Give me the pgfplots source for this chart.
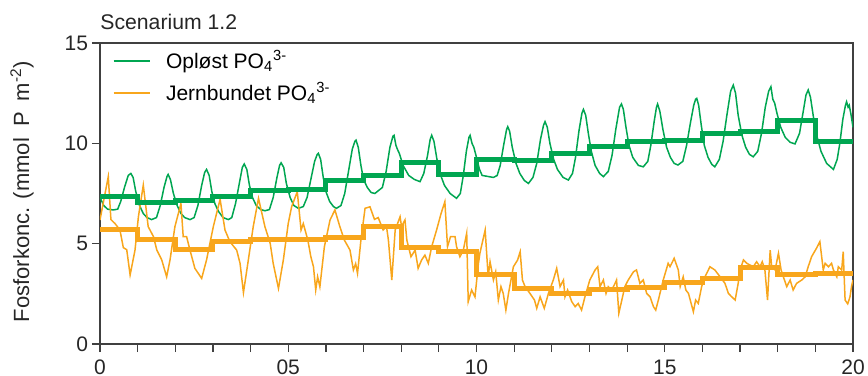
\documentclass[border=0pt]{standalone}
\usepackage{fontspec}
\setmainfont{Liberation Sans}
\usepackage{pgfplots}
\pgfplotsset{compat=1.18}
\definecolor{pgreen}{RGB}{0,166,81}
\definecolor{porange}{RGB}{248,166,28}
\definecolor{frame}{RGB}{64,64,64}
\begin{document}
\begin{tikzpicture}
\begin{axis}[name=ax,
  scale only axis, width=376.5bp, height=150.5bp,
  xmin=0, xmax=20, ymin=0, ymax=15,
  axis line style={frame, line width=0.6bp},
  tick style={frame, line width=0.6bp},
  tick align=outside, xtick pos=bottom, ytick pos=left,
  major tick length=4bp, minor tick length=4bp,
  xtick={0,5,10,15,20}, xticklabels={0,05,10,15,20},
  minor xtick={1,2,3,4,6,7,8,9,11,12,13,14,16,17,18,19},
  ytick={0,5,10,15},
  /pgf/number format/assume math mode=true,
  ticklabel style={font=\fontsize{10.5bp}{12bp}\selectfont, text=black!85},
  xticklabel style={yshift=-0.3bp},
  yticklabel style={xshift=1.5bp},
  legend style={draw=none, fill=none, at={(0,1)}, anchor=north west,
    xshift=3.3bp, yshift=0.5bp, font=\fontsize{10.5bp}{12bp}\selectfont,
    column sep=5.5bp, row sep=1.5bp},
  legend cell align=left,
  legend image code/.code={\draw[#1, line width=0.75bp] (0bp,0bp) -- (18.3bp,0bp);},
]
% thin green: dissolved PO4
\addplot[pgreen, line width=0.75bp] coordinates {
(0,7.3)(0.1,6.9)(0.2,6.72)(0.35,6.68)(0.47,6.72)(0.55,7.1)(0.65,7.8)(0.75,8.4)(0.82,8.5)(0.88,8.3)(0.95,7.6)(1.05,6.9)(1.15,6.5)(1.25,6.3)(1.37,6.2)
(1.5,6.3)(1.6,6.9)(1.7,7.8)(1.78,8.35)(1.81,8.45)(1.87,8.2)(1.95,7.5)(2.05,6.9)(2.15,6.5)(2.25,6.3)(2.39,6.2)
(2.5,6.3)(2.6,6.9)(2.7,7.9)(2.78,8.55)(2.83,8.7)(2.9,8.4)(2.97,7.6)(3.05,7.0)(3.15,6.6)(3.27,6.3)(3.41,6.2)
(3.5,6.3)(3.6,7.0)(3.7,8.0)(3.78,8.8)(3.83,8.97)(3.9,8.7)(3.97,7.9)(4.05,7.3)(4.15,6.9)(4.27,6.7)(4.38,6.64)
(4.5,6.7)(4.6,7.3)(4.7,8.3)(4.77,8.9)(4.81,9.03)(4.88,8.8)(4.95,8.0)(5.05,7.3)(5.15,6.9)(5.27,6.76)
(5.4,6.85)(5.5,7.3)(5.6,8.2)(5.7,9.1)(5.77,9.45)(5.8,9.5)(5.86,9.2)(5.93,8.3)(6.0,7.6)(6.1,7.1)(6.2,6.85)(6.28,6.76)
(6.4,6.9)(6.5,7.5)(6.6,8.6)(6.7,9.7)(6.77,10.1)(6.8,10.16)(6.86,9.8)(6.93,8.9)(7.0,8.2)(7.1,7.8)(7.2,7.55)(7.3,7.5)(7.4,7.65)
(7.5,7.8)(7.6,8.6)(7.7,9.8)(7.78,10.35)(7.81,10.4)(7.86,9.9)(7.9,9.7)(7.95,9.5)(8.05,8.9)(8.2,8.4)(8.35,8.2)(8.5,8.09)
(8.6,8.5)(8.7,9.4)(8.77,10.2)(8.81,10.4)(8.87,10.1)(8.95,9.2)(9.05,8.4)(9.15,7.9)(9.3,7.5)(9.47,7.26)
(9.57,7.5)(9.65,8.4)(9.73,9.6)(9.8,10.3)(9.83,10.4)(9.88,10.0)(9.93,9.8)(10.0,9.3)(10.08,8.7)(10.15,8.4)(10.3,8.35)(10.45,8.3)(10.55,8.4)
(10.63,8.9)(10.72,9.9)(10.8,10.7)(10.83,10.83)(10.88,10.6)(10.95,9.8)(11.05,9.0)(11.15,8.5)(11.27,8.15)(11.38,8.0)
(11.5,8.3)(11.6,9.0)(11.7,10.2)(11.78,10.9)(11.82,11.08)(11.88,10.8)(11.95,10.0)(12.05,9.2)(12.15,8.7)(12.3,8.3)(12.44,8.17)
(12.55,8.5)(12.63,9.3)(12.72,10.6)(12.8,11.5)(12.84,11.69)(12.9,11.4)(12.97,10.5)(13.05,9.6)(13.15,8.9)(13.27,8.5)(13.37,8.34)
(13.5,8.6)(13.6,9.4)(13.7,10.7)(13.8,11.8)(13.85,11.96)(13.9,11.7)(13.97,10.8)(14.05,9.9)(14.15,9.3)(14.3,8.9)(14.43,8.83)
(14.55,9.1)(14.63,9.9)(14.72,11.1)(14.78,11.8)(14.81,11.96)(14.87,11.6)(14.95,10.7)(15.05,9.8)(15.15,9.3)(15.25,9.0)(15.35,8.92)
(15.48,9.1)(15.58,9.9)(15.68,11.0)(15.77,11.9)(15.82,12.2)(15.85,12.24)(15.9,11.9)(15.97,10.9)(16.05,9.9)(16.15,9.3)(16.25,8.95)(16.33,8.83)
(16.45,9.2)(16.55,10.1)(16.65,11.4)(16.75,12.6)(16.82,12.9)(16.88,12.5)(16.95,11.4)(17.05,10.4)(17.15,9.8)(17.25,9.45)(17.35,9.33)
(17.47,9.6)(17.57,10.5)(17.67,11.8)(17.76,12.6)(17.82,12.82)(17.87,12.2)(17.92,12.0)(17.98,11.5)(18.08,10.8)(18.2,10.3)(18.33,10.05)(18.46,9.97)
(18.58,10.5)(18.67,11.5)(18.75,12.4)(18.81,12.66)(18.87,12.3)(18.95,11.3)(19.05,10.3)(19.15,9.6)(19.3,9.0)(19.48,8.7)
(19.58,9.2)(19.65,10.0)(19.73,11.2)(19.8,11.9)(19.83,12.07)(19.87,11.8)(19.9,11.9)(19.95,11.4)(20,10.8)
};
\addlegendentry{Opløst PO\textsubscript{4}\textsuperscript{3-}}
% thin orange: iron-bound PO4
\addplot[porange, line width=0.75bp] coordinates {
(0.0,6.18)(0.22,8.34)(0.29,6.2)(0.40,6.0)(0.53,5.68)(0.62,4.8)(0.71,4.7)(0.80,3.44)(0.93,4.68)(1.02,6.34)(1.15,7.92)
(1.28,5.85)(1.42,5.35)(1.51,4.68)(1.64,4.19)(1.77,3.35)(1.86,4.19)(1.99,5.85)(2.15,7.0)(2.21,5.35)(2.30,5.35)(2.39,4.68)
(2.52,3.77)(2.70,3.27)(2.83,4.19)(3.01,5.85)(3.19,7.21)(3.32,5.68)(3.45,5.1)(3.63,4.68)(3.72,4.02)(3.81,2.56)(3.94,4.19)
(4.07,5.85)(4.21,7.26)(4.38,5.85)(4.52,5.02)(4.60,4.02)(4.74,2.77)(4.87,4.19)(5.0,6.01)
(5.09,6.84)(5.24,7.59)(5.34,5.68)(5.40,6.0)(5.52,5.18)(5.60,4.35)(5.67,3.85)(5.73,2.69)(5.78,3.35)(5.84,2.85)(5.96,4.85)
(6.11,6.18)(6.24,6.68)(6.37,5.85)(6.49,5.18)(6.64,4.68)(6.73,3.69)(6.79,4.0)(6.84,3.52)(6.93,5.18)(7.04,6.76)(7.17,6.84)
(7.29,6.21)(7.39,6.3)(7.52,5.68)(7.61,5.85)(7.66,5.18)(7.75,3.19)(7.84,5.68)(7.97,6.34)(8.01,5.85)(8.10,6.18)(8.15,5.18)
(8.26,4.35)(8.37,4.68)(8.45,3.77)(8.54,4.18)(8.63,4.43)(8.72,4.02)(8.81,4.85)(8.94,5.68)(9.06,6.51)(9.16,7.09)(9.23,4.85)
(9.31,5.35)(9.43,5.35)(9.47,4.85)(9.56,4.35)(9.65,4.68)(9.74,5.52)(9.78,2.11)(9.87,2.69)(9.96,2.35)(10.05,4.0)
(10.09,4.52)(10.23,5.68)(10.31,3.35)(10.36,4.1)(10.45,3.19)(10.51,3.6)(10.58,2.19)(10.65,2.86)(10.71,2.52)(10.78,1.69)(10.85,2.52)
(10.98,3.85)(11.09,4.18)(11.16,4.6)(11.22,3.19)(11.29,2.86)(11.42,2.52)(11.54,2.19)(11.60,1.78)(11.69,2.35)(11.80,1.78)(11.91,2.52)
(12.04,3.19)(12.13,3.77)(12.22,2.86)(12.31,3.19)(12.35,2.35)(12.42,2.69)(12.53,2.11)(12.62,1.86)(12.70,2.02)(12.79,1.69)(12.88,2.35)
(13.01,3.19)(13.15,3.69)(13.22,3.85)(13.28,2.86)(13.37,3.19)(13.44,2.52)(13.50,2.86)(13.59,2.69)(13.68,3.02)(13.72,3.19)(13.78,1.53)
(13.86,2.19)(13.94,2.86)(14.03,3.19)(14.17,3.6)(14.25,3.69)(14.34,3.02)(14.43,3.19)(14.52,2.52)(14.61,2.35)(14.70,1.86)(14.76,1.69)
(14.83,2.19)(14.96,3.19)(15.09,4.02)(15.14,3.85)(15.25,4.27)(15.36,3.69)(15.41,2.86)(15.49,3.35)(15.56,2.69)(15.63,2.52)(15.70,2.03)
(15.76,1.61)(15.82,2.19)(15.89,2.02)(15.98,2.86)(16.07,3.35)(16.20,3.85)(16.33,3.69)(16.47,3.35)(16.60,3.02)(16.69,2.52)(16.78,2.35)
(16.87,2.19)(16.95,3.02)(17.0,3.69)(17.09,4.19)(17.18,4.02)(17.26,3.94)(17.35,3.85)(17.44,4.1)(17.53,3.85)(17.59,4.1)(17.66,3.69)
(17.73,2.19)(17.80,4.68)(17.84,3.85)(17.93,3.69)(18.02,4.52)(18.09,3.69)(18.15,3.35)(18.24,2.86)(18.33,3.19)(18.41,2.69)(18.50,3.02)
(18.64,3.19)(18.73,3.35)(18.81,3.85)(18.90,4.35)(19.03,4.77)(19.12,5.1)(19.21,3.69)(19.26,4.02)(19.35,3.85)(19.43,4.02)(19.48,3.69)
(19.57,3.35)(19.61,3.85)(19.70,3.69)(19.74,4.6)(19.79,2.19)(19.86,2.0)(19.92,2.35)(19.96,2.86)(20.0,3.19)
};
\addlegendentry{Jernbundet PO\textsubscript{4}\textsuperscript{3-}}
% annual means (thick steps)
\addplot[pgreen, line width=2.5bp, const plot, forget plot] coordinates {
(0,7.33)(1,7.06)(2,7.14)(3,7.37)(4,7.64)(5,7.7)(6,8.17)(7,8.42)(8,9.05)(9,8.47)
(10,9.17)(11,9.12)(12,9.47)(13,9.83)(14,10.11)(15,10.15)(16,10.5)(17,10.58)(18,11.16)(19,10.08)(20,10.08)
};
\addplot[porange, line width=2.5bp, const plot, forget plot] coordinates {
(0,5.73)(1,5.21)(2,4.72)(3,5.13)(4,5.21)(5,5.21)(6,5.31)(7,5.85)(8,4.82)(9,4.63)
(10,3.44)(11,2.79)(12,2.52)(13,2.74)(14,2.82)(15,3.06)(16,3.24)(17,3.82)(18,3.44)(19,3.49)(20,3.49)
};
\end{axis}
\node[anchor=base west, inner sep=0pt, font=\fontsize{10.6bp}{12bp}\selectfont, text=black!85] at ([yshift=6.5bp]ax.north west) {Scenarium 1.2};
\node[rotate=90, anchor=center, inner sep=0pt, font=\fontsize{11bp}{13bp}\selectfont, text=black!85] at ([xshift=-39bp,yshift=1bp]ax.west) {Fosforkonc. (mmol\hspace{0.5em}P\hspace{0.5em}m\textsuperscript{-2})};
\pgfresetboundingbox
\path[use as bounding box] ([shift={(-50bp,-16bp)}]ax.south west) rectangle ([shift={(7.5bp,21.5bp)}]ax.north east);
\end{tikzpicture}
\end{document}
